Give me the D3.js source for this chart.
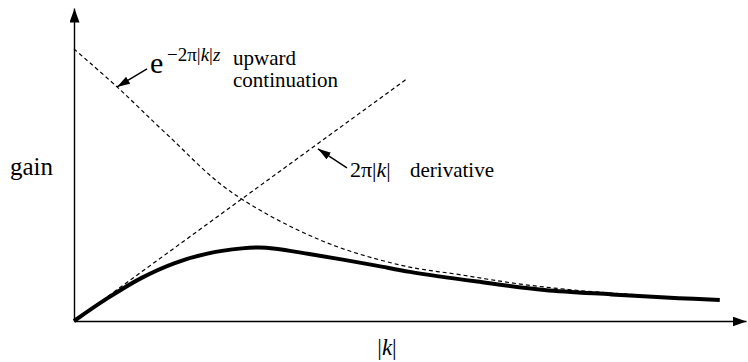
<!DOCTYPE html>
<html>
<head>
<meta charset="utf-8">
<script src="https://cdn.jsdelivr.net/npm/d3@7"></script>
<style>
  html, body { margin: 0; padding: 0; background: #fff; }
  svg { display: block; }
  svg text { font-family: "Liberation Serif", "Times New Roman", Times, "DejaVu Serif", serif; }
</style>
</head>
<body>
<svg id="chart" width="748" height="362"></svg>
<script>
// Wavenumber |k| (arbitrary units) and gain values for each curve
const kLinear = [0, 4.95];
const gainLinear = [0, 7.73];                     // 2π|k|  (derivative)

const kExp = [0, 0.64, 1.38, 2.32, 3.66, 4.85, 5.74, 6.64, 7.53, 8.42];
const gainExp = [8.69, 7.48, 5.97, 4.15, 2.59, 1.79, 1.48, 1.18, 0.97, 0.83];   // e^{-2π|k|z}

const kProduct = [0, 0.5, 1.0, 1.5, 2.0, 2.5, 2.75, 3.0, 3.5, 4.0, 4.5, 5.0, 6.0, 7.0, 8.0, 9.0, 9.61];
const gainProduct = [0, 0.73, 1.37, 1.85, 2.16, 2.32, 2.35, 2.31, 2.14, 1.96, 1.77, 1.57, 1.26, 0.99, 0.85, 0.73, 0.67];

const kDomain = [0, 10];
const gainDomain = [0, 10];

const svg = d3.select("#chart");
const x = d3.scaleLinear().domain(kDomain).range([74, 746]);
const y = d3.scaleLinear().domain(gainDomain).range([321, 8]);

const defs = svg.append("defs");
defs.append("marker")
  .attr("id", "axisHead")
  .attr("viewBox", "0 0 14 10")
  .attr("refX", 14).attr("refY", 5)
  .attr("markerWidth", 14).attr("markerHeight", 10)
  .attr("markerUnits", "userSpaceOnUse")
  .attr("orient", "auto")
  .append("path").attr("d", "M0,0L14,5L0,10Z").attr("fill", "#000");
defs.append("marker")
  .attr("id", "noteHead")
  .attr("viewBox", "0 0 13 8")
  .attr("refX", 13).attr("refY", 4)
  .attr("markerWidth", 13).attr("markerHeight", 8)
  .attr("markerUnits", "userSpaceOnUse")
  .attr("orient", "auto")
  .append("path").attr("d", "M0,0L13,4L0,8Z").attr("fill", "#000");

// Axes without ticks, each ending in an arrowhead
const xAxis = svg.append("g")
  .attr("transform", `translate(0,${y(0)})`)
  .call(d3.axisBottom(x).tickValues([]).tickSizeOuter(0));
const yAxis = svg.append("g")
  .attr("transform", `translate(${x(0)},0)`)
  .call(d3.axisLeft(y).tickValues([]).tickSizeOuter(0));
[xAxis, yAxis].forEach(g => g.select(".domain")
  .attr("stroke", "#000").attr("stroke-width", 1.4)
  .attr("marker-end", "url(#axisHead)"));

const toPts = (ks, gs) => ks.map((k, i) => [k, gs[i]]);
const line = d3.line().x(d => x(d[0])).y(d => y(d[1])).curve(d3.curveCatmullRom.alpha(0.5));

svg.append("path")
  .datum(toPts(kLinear, gainLinear))
  .attr("d", line)
  .attr("fill", "none").attr("stroke", "#000")
  .attr("stroke-width", 1.2).attr("stroke-dasharray", "4,3");

svg.append("path")
  .datum(toPts(kExp, gainExp))
  .attr("d", line)
  .attr("fill", "none").attr("stroke", "#000")
  .attr("stroke-width", 1.2).attr("stroke-dasharray", "4,3");

svg.append("path")
  .datum(toPts(kProduct, gainProduct))
  .attr("d", line)
  .attr("fill", "none").attr("stroke", "#000")
  .attr("stroke-width", 4).attr("stroke-linecap", "butt");

const serif = "'Liberation Serif', 'Times New Roman', serif";
const addText = (px, py, size, parts, anchor) => {
  const t = svg.append("text")
    .attr("x", px).attr("y", py)
    .attr("font-size", size)
    .attr("font-family", serif)
    .style("font-family", serif)
    .attr("text-anchor", anchor || "start")
    .attr("fill", "#000");
  parts.forEach(p => t.append("tspan")
    .attr("font-style", p.i ? "italic" : "normal")
    .text(p.s));
  return t;
};

// Axis labels
addText(10, 175, 25, [{ s: "gain" }]);
addText(387, 355, 23, [{ s: "|" }, { s: "k", i: true }, { s: "|" }], "middle");

// Annotation arrows: tail offset in pixels from a tip placed in data units
const notes = [
  { k: 0.64, g: 7.48, dx: 30, dy: -18 },
  { k: 3.63, g: 5.5, dx: 29, dy: 19 }
];
notes.forEach(n => {
  svg.append("line")
    .attr("x1", x(n.k) + n.dx).attr("y1", y(n.g) + n.dy)
    .attr("x2", x(n.k)).attr("y2", y(n.g))
    .attr("stroke", "#000").attr("stroke-width", 1.4)
    .attr("marker-end", "url(#noteHead)");
});

// e^{-2π|k|z}  upward continuation
addText(150, 73, 30, [{ s: "e" }]);
addText(167, 61, 19, [{ s: "\u22122\u03c0|" }, { s: "k", i: true }, { s: "|" }, { s: "z", i: true }]);
addText(233, 65, 21, [{ s: "upward" }]);
addText(233, 87, 21, [{ s: "continuation" }]);

// 2π|k|  derivative
addText(350, 177, 22, [{ s: "2\u03c0|" }, { s: "k", i: true }, { s: "|" }]);
addText(410, 177, 21, [{ s: "derivative" }]);
</script>
</body>
</html>
